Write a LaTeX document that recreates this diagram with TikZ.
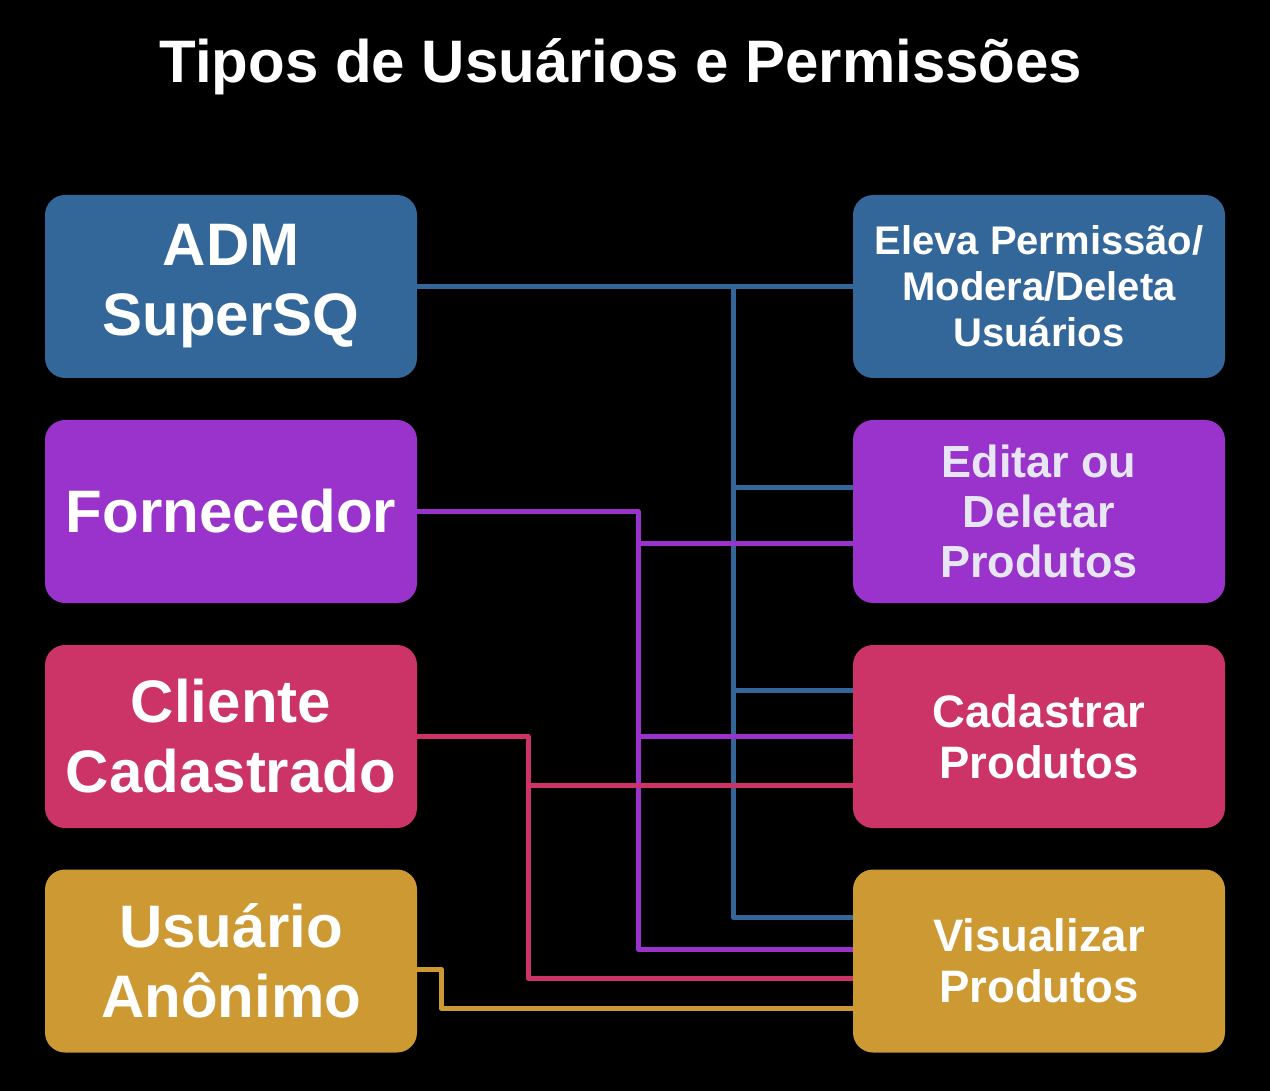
\documentclass[tikz,border=0pt]{standalone}
\usepackage{fontspec}
\setmainfont{Liberation Sans}
\definecolor{cblue}{HTML}{336699}
\definecolor{cpurple}{HTML}{9933CC}
\definecolor{cpink}{HTML}{CC3366}
\definecolor{cgold}{HTML}{CC9933}
\definecolor{clav}{HTML}{E6E6F5}
\tikzset{
  box/.style={rectangle, rounded corners=20pt, minimum width=372pt, minimum height=183pt, inner sep=0pt, align=center, text=white},
  lefttxt/.style={font=\bfseries\fontsize{60}{70}\selectfont},
  righttxt/.style={font=\bfseries\fontsize{45.5}{51}\selectfont},
  conn/.style={line width=5pt, line join=round},
}
\begin{document}
\begin{tikzpicture}[x=1pt,y=-1pt]
\fill[black] (0,0) rectangle (1270,1091);
\useasboundingbox (0,0) rectangle (1270,1091);
\node[anchor=base, text=white, font=\bfseries\fontsize{60}{70}\selectfont] (title) at (621,83) {Tipos de Usuários e Permissões};
% left nodes
\node[box, lefttxt, fill=cblue]   (adm)  at (231,286.5) {ADM\\SuperSQ};
\node[box, lefttxt, fill=cpurple] (forn) at (231,511.5) {Fornecedor};
\node[box, lefttxt, fill=cpink]   (cli)  at (231,736.5) {Cliente\\Cadastrado};
\node[box, lefttxt, fill=cgold]   (anon) at (231,961)   {Usuário\\Anônimo};
% right nodes
\node[box, fill=cblue, font=\bfseries\fontsize{40}{46}\selectfont] (elev) at (1039,286.5) {Eleva Permissão/\\Modera/Deleta\\Usuários};
\node[box, righttxt, fill=cpurple, text=clav, font=\bfseries\fontsize{45}{50}\selectfont] (edit) at (1039,511.5) {Editar ou\\Deletar\\Produtos};
\node[box, righttxt, fill=cpink] (cad) at (1039,736.5) {Cadastrar\\Produtos};
\node[box, righttxt, fill=cgold] (vis) at (1039,961) {Visualizar\\Produtos};
% blue connectors
\coordinate (bt) at (733,287);
\coordinate (bb) at (733,917);
\coordinate (b2) at (733,487);
\coordinate (b3) at (733,690);
\draw[conn, cblue] (adm.east) -- (elev.west);
\draw[conn, cblue] (bt) -- (bb) -- (bb -| vis.west);
\draw[conn, cblue] (b2) -- (b2 -| edit.west);
\draw[conn, cblue] (b3) -- (b3 -| cad.west);
% purple connectors
\coordinate (pt) at (638,511.5);
\coordinate (pb) at (638,949);
\coordinate (p2) at (638,543);
\coordinate (p3) at (638,736);
\draw[conn, cpurple] (forn.east) -- (pt) -- (pb) -- (pb -| vis.west);
\draw[conn, cpurple] (p2) -- (p2 -| edit.west);
\draw[conn, cpurple] (p3) -- (p3 -| cad.west);
% pink connectors
\coordinate (rt) at (528,736.5);
\coordinate (rb) at (528,978);
\coordinate (r2) at (528,785);
\draw[conn, cpink] (cli.east) -- (rt) -- (rb) -- (rb -| vis.west);
\draw[conn, cpink] (r2) -- (r2 -| cad.west);
% gold connector
\coordinate (g1) at (441,969);
\coordinate (g2) at (441,1008);
\draw[conn, cgold] (g1 -| anon.east) -- (g1) -- (g2) -- (g2 -| vis.west);
\end{tikzpicture}
\end{document}
